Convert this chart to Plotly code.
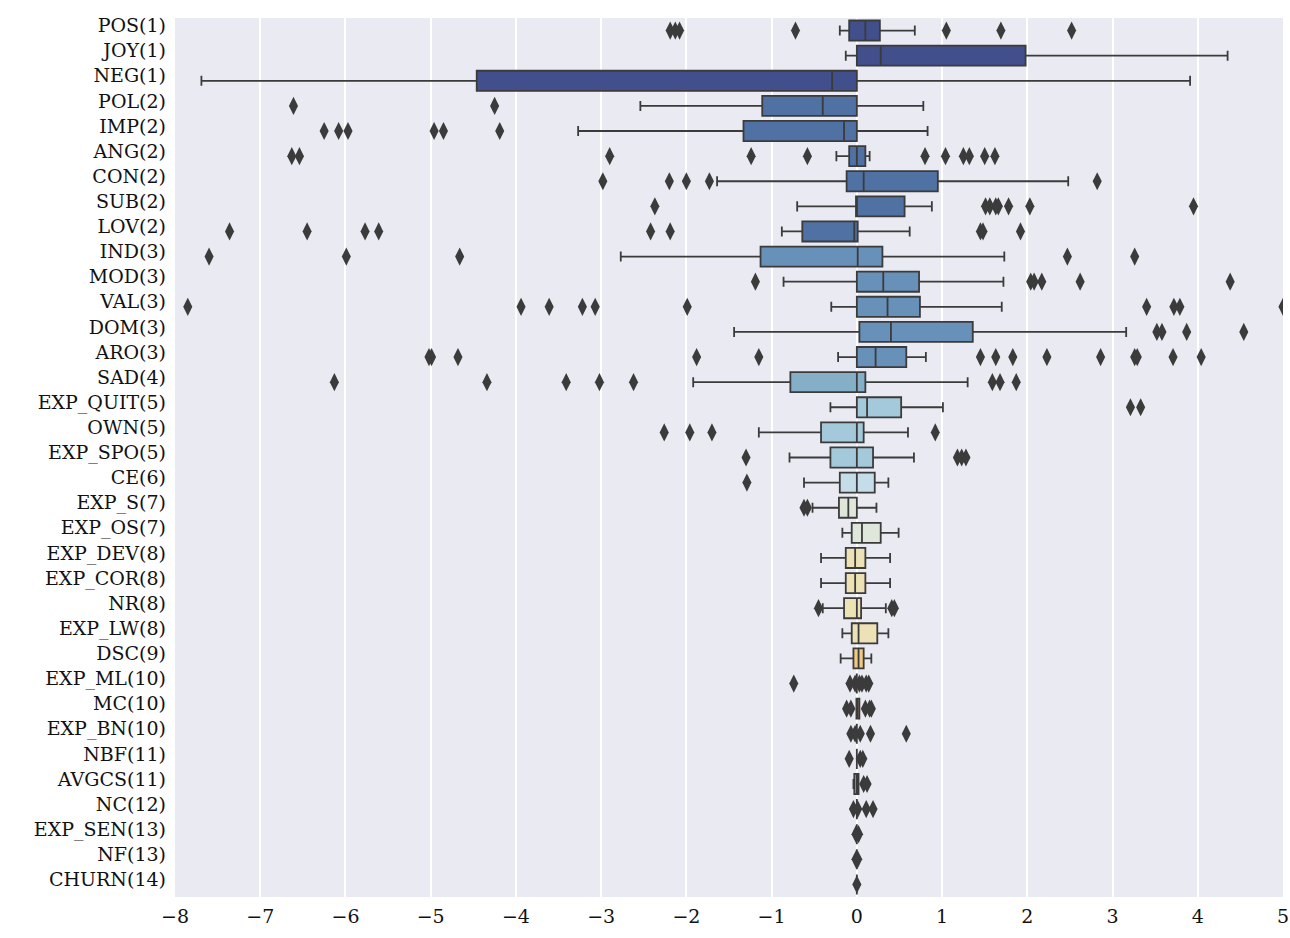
import plotly.graph_objects as go

labels = ["POS(1)", "JOY(1)", "NEG(1)", "POL(2)", "IMP(2)", "ANG(2)", "CON(2)", "SUB(2)", "LOV(2)",
          "IND(3)", "MOD(3)", "VAL(3)", "DOM(3)", "ARO(3)", "SAD(4)", "EXP_QUIT(5)", "OWN(5)", "EXP_SPO(5)",
          "CE(6)", "EXP_S(7)", "EXP_OS(7)", "EXP_DEV(8)", "EXP_COR(8)", "NR(8)", "EXP_LW(8)", "DSC(9)",
          "EXP_ML(10)", "MC(10)", "EXP_BN(10)", "NBF(11)", "AVGCS(11)", "NC(12)", "EXP_SEN(13)", "NF(13)",
          "CHURN(14)"]
groups = [1, 1, 1, 2, 2, 2, 2, 2, 2, 3, 3, 3, 3, 3, 4, 5, 5, 5, 6, 7, 7, 8, 8, 8, 8, 9,
          10, 10, 10, 11, 11, 12, 13, 13, 14]

lower_fence = [-0.20, -0.13, -7.69, -2.54, -3.27, -0.24, -1.64, -0.70, -0.88,
               -2.77, -0.86, -0.30, -1.44, -0.22, -1.92, -0.31, -1.15, -0.79,
               -0.62, -0.52, -0.17, -0.42, -0.42, -0.40, -0.17, -0.19,
               0.0, -0.005, 0.0, 0.0, -0.04, 0.0, 0.0, 0.0, 0.0]
q1 = [-0.09, 0.00, -4.46, -1.11, -1.33, -0.09, -0.12, -0.01, -0.64,
      -1.13, 0.00, 0.00, 0.03, 0.00, -0.78, 0.00, -0.42, -0.31,
      -0.20, -0.21, -0.06, -0.13, -0.13, -0.15, -0.06, -0.04,
      0.0, -0.005, 0.0, 0.0, -0.03, 0.0, 0.0, 0.0, 0.0]
median = [0.10, 0.28, -0.29, -0.40, -0.15, 0.00, 0.08, 0.00, -0.03,
          0.01, 0.31, 0.36, 0.40, 0.22, 0.00, 0.12, 0.00, 0.00,
          0.00, -0.10, 0.06, -0.02, -0.02, 0.00, 0.02, 0.02,
          0.0, 0.005, 0.0, 0.0, 0.0, 0.0, 0.0, 0.0, 0.0]
q3 = [0.27, 1.98, 0.00, 0.00, 0.00, 0.10, 0.95, 0.56, 0.01,
      0.30, 0.73, 0.74, 1.36, 0.58, 0.10, 0.52, 0.08, 0.19,
      0.21, 0.00, 0.28, 0.10, 0.10, 0.05, 0.24, 0.08,
      0.0, 0.03, 0.0, 0.0, 0.02, 0.0, 0.0, 0.0, 0.0]
upper_fence = [0.68, 4.35, 3.91, 0.78, 0.83, 0.15, 2.48, 0.88, 0.62,
               1.73, 1.72, 1.70, 3.16, 0.81, 1.30, 1.01, 0.60, 0.67,
               0.37, 0.23, 0.49, 0.39, 0.39, 0.34, 0.37, 0.17,
               0.0, 0.03, 0.0, 0.0, 0.02, 0.0, 0.0, 0.0, 0.0]

outliers = [
    [-2.19, -2.13, -2.08, -0.72, 1.05, 1.69, 2.52],
    [],
    [],
    [-6.61, -4.25],
    [-6.25, -6.08, -5.97, -4.96, -4.85, -4.19],
    [-6.63, -6.54, -2.90, -1.24, -0.58, 0.80, 1.04, 1.25, 1.32, 1.50, 1.62],
    [-2.98, -2.20, -2.00, -1.73, 2.82],
    [-2.37, 1.51, 1.56, 1.63, 1.66, 1.78, 2.03, 3.95],
    [-7.36, -6.45, -5.77, -5.61, -2.42, -2.19, 1.45, 1.48, 1.92],
    [-7.60, -5.99, -4.66, 2.47, 3.26],
    [-1.19, 2.04, 2.08, 2.17, 2.62, 4.38],
    [-7.85, -3.94, -3.61, -3.22, -3.07, -1.99, 3.40, 3.72, 3.79, 5.00],
    [3.52, 3.58, 3.87, 4.54],
    [-5.02, -4.99, -4.68, -1.88, -1.15, 1.45, 1.63, 1.83, 2.23, 2.86, 3.26, 3.29, 3.71, 4.04],
    [-6.13, -4.34, -3.41, -3.02, -2.62, 1.59, 1.68, 1.87],
    [3.21, 3.33],
    [-2.26, -1.96, -1.70, 0.92],
    [-1.30, 1.18, 1.23, 1.28],
    [-1.29],
    [-0.62, -0.58],
    [],
    [],
    [],
    [-0.45, 0.41, 0.44],
    [],
    [],
    [-0.74, -0.08, -0.02, 0.03, 0.06, 0.11, 0.14],
    [-0.12, -0.07, 0.10, 0.15, 0.17],
    [-0.07, -0.02, 0.04, 0.16, 0.58],
    [-0.09, 0.04, 0.07],
    [0.08, 0.12],
    [-0.04, 0.01, 0.11, 0.19],
    [-0.01, 0.02],
    [-0.01, 0.01],
    [0.0],
]

group_colors = {1: "#414f8c", 2: "#4f71a3", 3: "#6791b9", 4: "#85afc7", 5: "#a3c9da",
                6: "#c4dde8", 7: "#dee7da", 8: "#ece2b6", 9: "#f0c982", 10: "#eea86e",
                11: "#e68a5c", 12: "#da6a4c", 13: "#c84c40", 14: "#a83a38"}

x_ticks = [-8, -7, -6, -5, -4, -3, -2, -1, 0, 1, 2, 3, 4, 5]

LINE = "#3b3b3b"
fig = go.Figure()
for i, lab in enumerate(labels):
    fig.add_trace(go.Box(
        y=[lab], q1=[q1[i]], median=[median[i]], q3=[q3[i]],
        lowerfence=[lower_fence[i]], upperfence=[upper_fence[i]],
        orientation="h", boxpoints=False, width=0.8, whiskerwidth=0.5,
        fillcolor=group_colors[groups[i]], line=dict(color=LINE, width=1.8),
        showlegend=False, hoverinfo="skip"))
    if outliers[i]:
        fig.add_trace(go.Scatter(
            x=outliers[i], y=[lab] * len(outliers[i]), mode="markers",
            marker=dict(symbol="diamond-tall", size=13, color=LINE, line=dict(width=0)),
            showlegend=False, hoverinfo="skip", cliponaxis=True))

font = dict(family="DejaVu Serif", size=19, color="#111111")
fig.update_layout(
    width=1290, height=938,
    margin=dict(l=175, r=7, t=18, b=41),
    paper_bgcolor="white", plot_bgcolor="#eaeaf2",
    font=font,
)
fig.update_xaxes(range=[-8, 5], tickvals=x_ticks, showgrid=True, gridcolor="white", gridwidth=1.5,
                 zeroline=False, showline=False, ticks="", tickfont=font, automargin=False,
                 ticklabelstandoff=6)
fig.update_yaxes(type="category", categoryorder="array", categoryarray=labels,
                 range=[len(labels) - 0.5, -0.5], showgrid=False, zeroline=False,
                 showline=False, ticks="", tickfont=font, ticklabelstandoff=8, ticklabelshift=5,
                 automargin=False)
fig.write_html("out.html", config={"displayModeBar": False},
               post_script="document.body.style.margin='0';document.body.style.overflow='hidden';")
